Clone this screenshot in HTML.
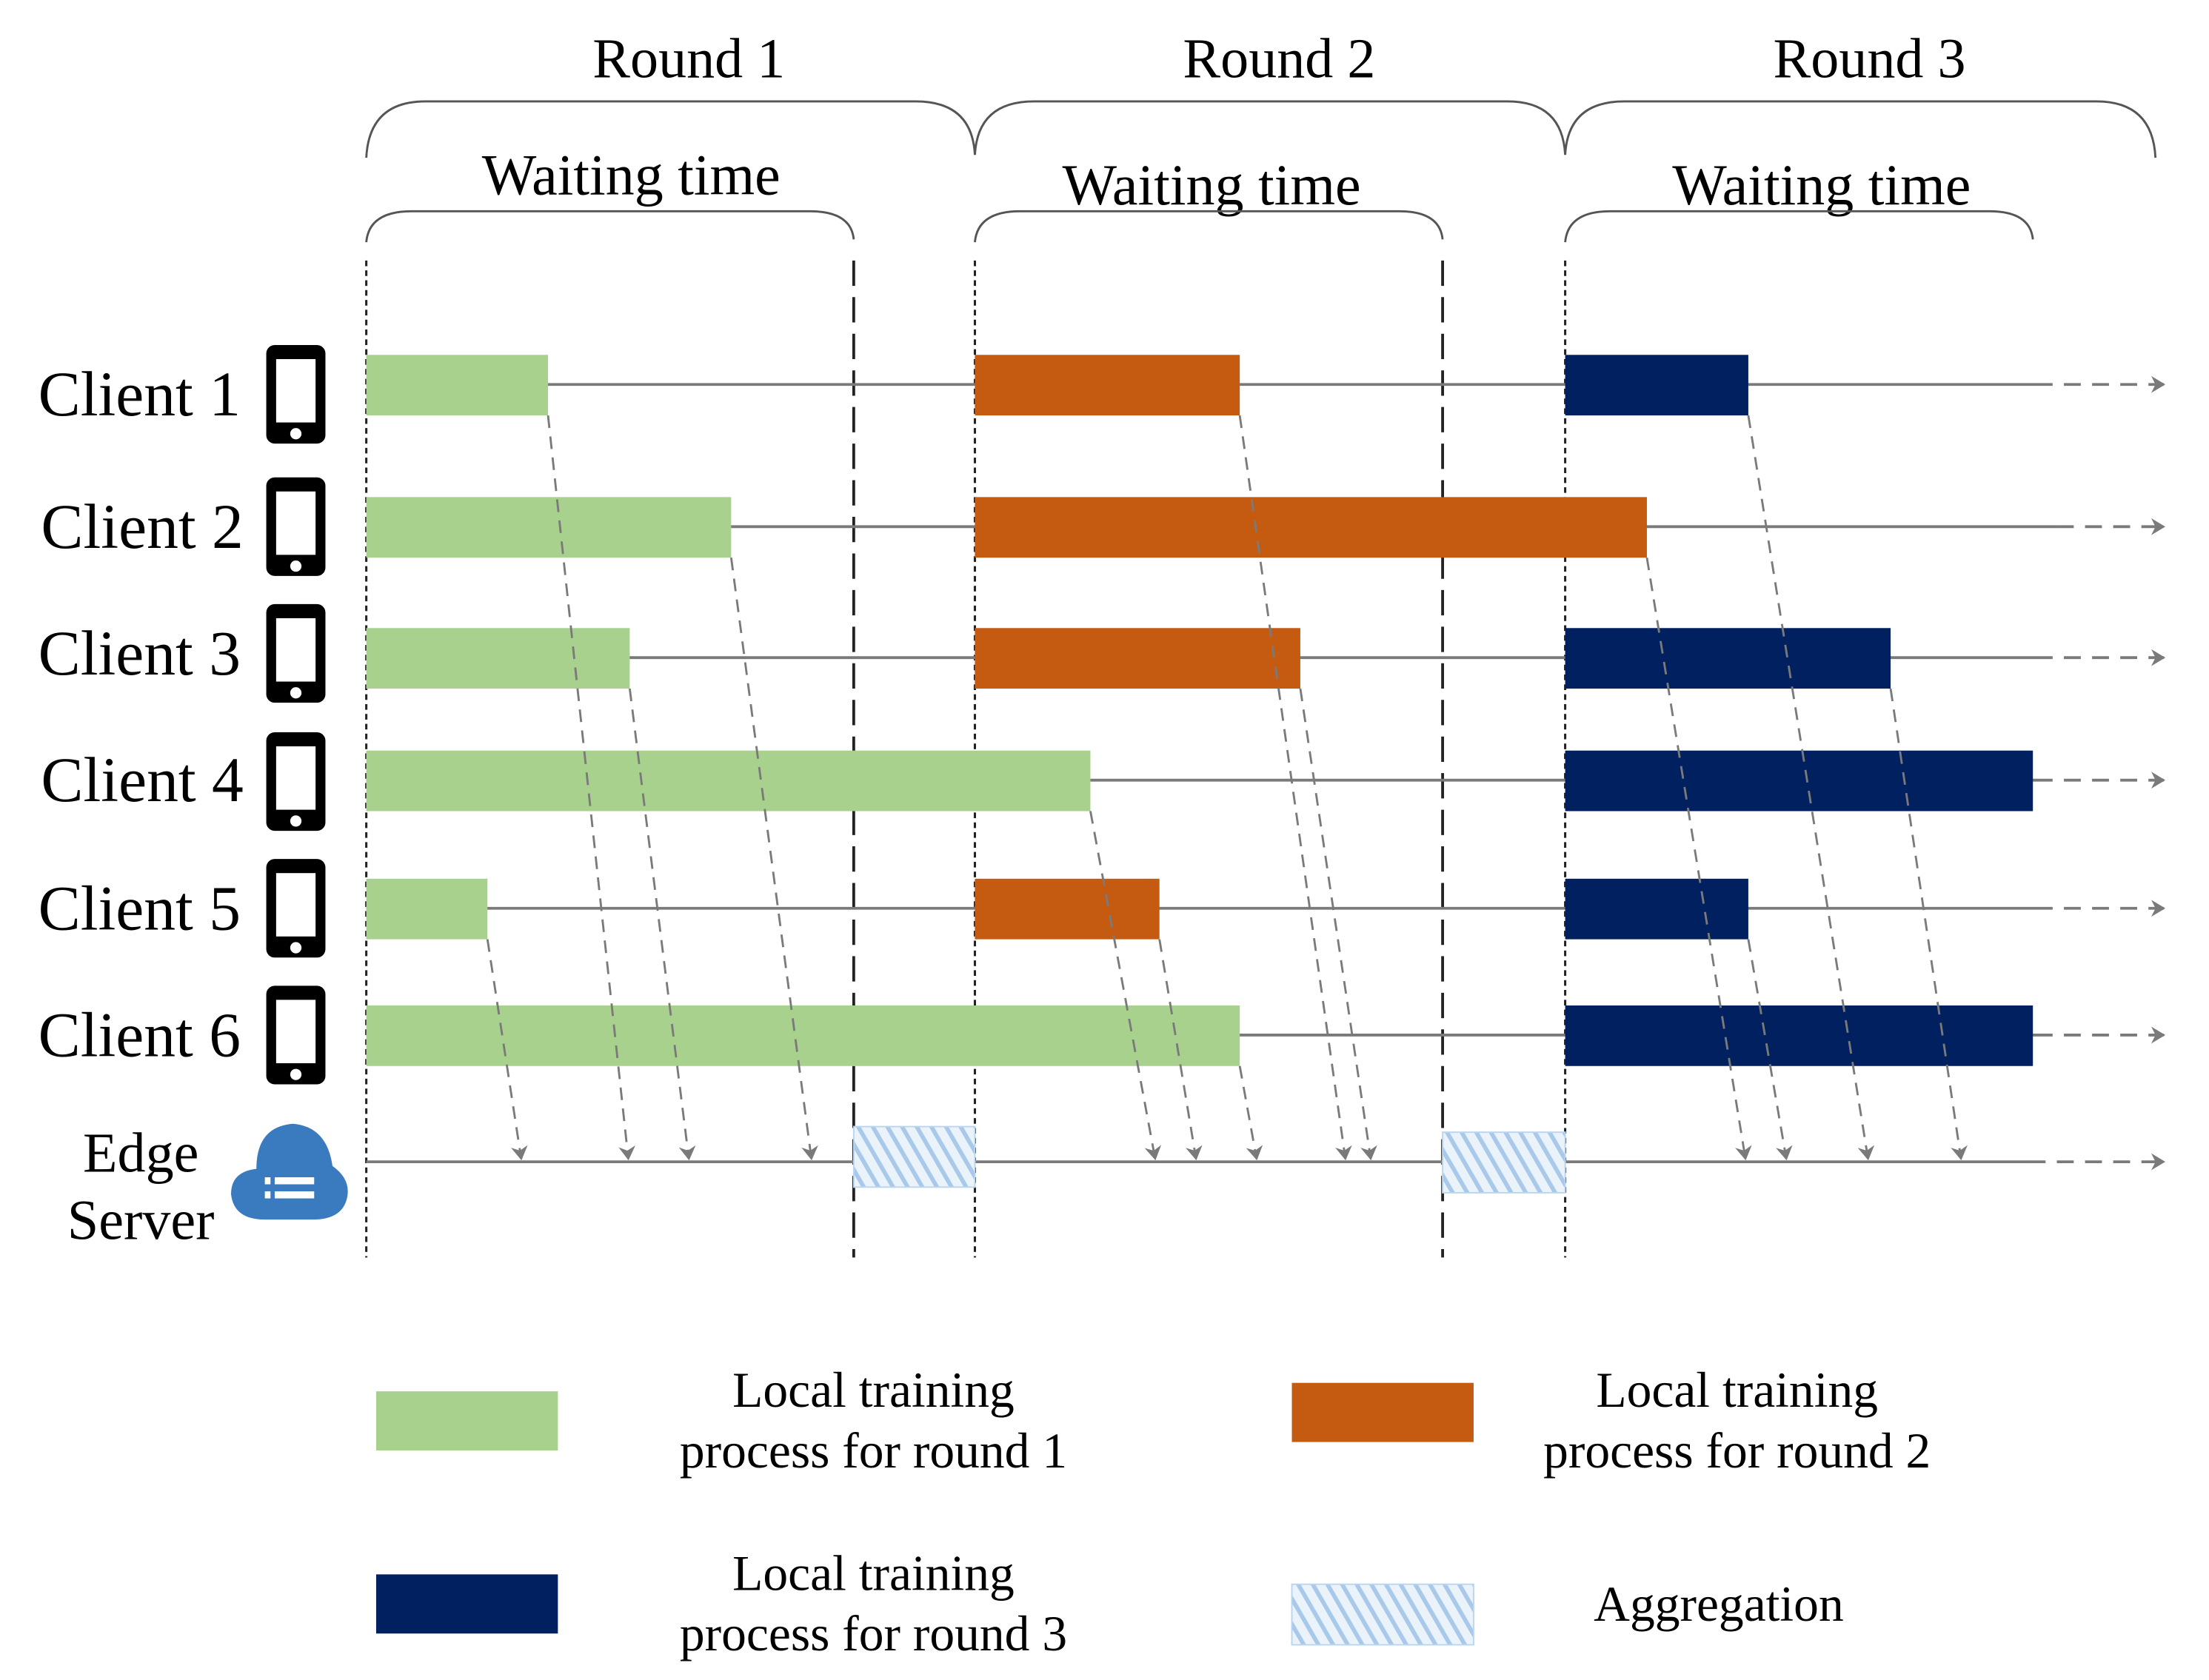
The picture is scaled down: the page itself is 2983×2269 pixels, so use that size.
<!DOCTYPE html>
<html><head><meta charset="utf-8"><style>html,body{margin:0;padding:0;background:#fff}svg{display:block}</style></head>
<body>
<svg width="2983" height="2269" viewBox="0 0 1568 1193" preserveAspectRatio="none" xmlns="http://www.w3.org/2000/svg" font-family="Liberation Serif, serif">
<defs>
<pattern id="h" width="9" height="9" patternUnits="userSpaceOnUse" patternTransform="rotate(-30)">
<rect width="9" height="9" fill="#eaf2fa"/><rect width="3" height="9" fill="#a9c9ea"/>
</pattern>
<marker id="a" markerWidth="10" markerHeight="12" refX="9" refY="6" orient="auto" markerUnits="userSpaceOnUse"><path d="M0,0 L10,6 L0,12 L3,6 Z" fill="#7a7a7a"/></marker>
<g id="ph"><rect x="-21" y="-35" width="42" height="70" rx="6" fill="#000"/><rect x="-14" y="-25" width="28" height="45" fill="#fff"/><circle cx="0" cy="28" r="4" fill="#fff"/></g>
</defs>
<g font-size="40" text-anchor="middle" fill="#000">
<text x="489" y="55">Round 1</text><text x="908" y="55">Round 2</text><text x="1327" y="55">Round 3</text>
</g>
<g font-size="41" text-anchor="middle" fill="#000">
<text x="448" y="138">Waiting time</text><text x="860" y="145">Waiting time</text><text x="1293" y="145">Waiting time</text>
</g>
<g fill="none" stroke="#555" stroke-width="1.5">
<path d="M260,112 Q262,72 302,72 L650,72 Q690,72 692,110 Q694,72 734,72 L1070,72 Q1109,72 1111,110 Q1113,72 1153,72 L1488,72 Q1528,72 1530,112"/>
<path d="M260,172 Q262,150 292,150 L575,150 Q604,150 606,170"/>
<path d="M692,172 Q694,150 724,150 L993,150 Q1022,150 1024,170"/>
<path d="M1111,172 Q1113,150 1143,150 L1412,150 Q1441,150 1443,170"/>
</g>
<g stroke="#222" stroke-width="1.6">
<line x1="260" y1="185" x2="260" y2="893" stroke-dasharray="4,3"/>
<line x1="692" y1="185" x2="692" y2="893" stroke-dasharray="4,3"/>
<line x1="1111" y1="185" x2="1111" y2="893" stroke-dasharray="4,3"/>
<line x1="606" y1="185" x2="606" y2="893" stroke-dasharray="18,8" stroke-width="2"/>
<line x1="1024" y1="185" x2="1024" y2="893" stroke-dasharray="18,8" stroke-width="2"/>
</g>
<g stroke="#7a7a7a" stroke-width="2" fill="none">
<line x1="260" y1="273" x2="1445" y2="273"/><line x1="1445" y1="273" x2="1536" y2="273" stroke-dasharray="12,8" marker-end="url(#a)"/>
<line x1="260" y1="374" x2="1460" y2="374"/><line x1="1460" y1="374" x2="1536" y2="374" stroke-dasharray="12,8" marker-end="url(#a)"/>
<line x1="260" y1="467" x2="1445" y2="467"/><line x1="1445" y1="467" x2="1536" y2="467" stroke-dasharray="12,8" marker-end="url(#a)"/>
<line x1="260" y1="554" x2="1445" y2="554"/><line x1="1445" y1="554" x2="1536" y2="554" stroke-dasharray="12,8" marker-end="url(#a)"/>
<line x1="260" y1="645" x2="1445" y2="645"/><line x1="1445" y1="645" x2="1536" y2="645" stroke-dasharray="12,8" marker-end="url(#a)"/>
<line x1="260" y1="735" x2="1445" y2="735"/><line x1="1445" y1="735" x2="1536" y2="735" stroke-dasharray="12,8" marker-end="url(#a)"/>
<line x1="260" y1="825" x2="1440" y2="825"/><line x1="1440" y1="825" x2="1536" y2="825" stroke-dasharray="12,8" marker-end="url(#a)"/>
</g>
<g fill="#a9d18e">
<rect x="260" y="252" width="129" height="43"/><rect x="260" y="353" width="259" height="43"/><rect x="260" y="446" width="187" height="43"/>
<rect x="260" y="533" width="514" height="43"/><rect x="260" y="624" width="86" height="43"/><rect x="260" y="714" width="620" height="43"/>
</g>
<g fill="#c55a11">
<rect x="692" y="252" width="188" height="43"/><rect x="692" y="353" width="477" height="43"/><rect x="692" y="446" width="231" height="43"/><rect x="692" y="624" width="131" height="43"/>
</g>
<g fill="#002060">
<rect x="1111" y="252" width="130" height="43"/><rect x="1111" y="446" width="231" height="43"/><rect x="1111" y="533" width="332" height="43"/>
<rect x="1111" y="624" width="130" height="43"/><rect x="1111" y="714" width="332" height="43"/>
</g>
<rect x="606" y="800" width="86" height="43" fill="url(#h)" stroke="#bcd5ee"/>
<rect x="1024" y="804" width="87" height="43" fill="url(#h)" stroke="#bcd5ee"/>
<g stroke="#7a7a7a" stroke-width="1.5" stroke-dasharray="9,6" fill="none" marker-end="url(#a)">
<line x1="346" y1="667" x2="370" y2="823"/><line x1="389" y1="295" x2="446" y2="823"/><line x1="447" y1="489" x2="489" y2="823"/><line x1="519" y1="396" x2="576" y2="823"/>
<line x1="774" y1="576" x2="820" y2="823"/><line x1="823" y1="667" x2="849" y2="823"/><line x1="880" y1="757" x2="892" y2="823"/><line x1="880" y1="295" x2="955" y2="823"/><line x1="923" y1="489" x2="973" y2="823"/>
<line x1="1169" y1="396" x2="1239" y2="823"/><line x1="1241" y1="667" x2="1268" y2="823"/><line x1="1241" y1="295" x2="1326" y2="823"/><line x1="1342" y1="489" x2="1392" y2="823"/>
</g>
<g font-size="45" text-anchor="middle">
<text x="99" y="295">Client 1</text><text x="101" y="389">Client 2</text><text x="99" y="479">Client 3</text>
<text x="101" y="569">Client 4</text><text x="99" y="660">Client 5</text><text x="99" y="750">Client 6</text>
</g>
<use href="#ph" x="210" y="280"/><use href="#ph" x="210" y="374"/><use href="#ph" x="210" y="464"/>
<use href="#ph" x="210" y="555"/><use href="#ph" x="210" y="645"/><use href="#ph" x="210" y="735"/>
<g font-size="40" text-anchor="middle"><text x="100" y="832">Edge</text><text x="100" y="880">Server</text></g>
<path d="M182,830 Q182,800 208,798 Q232,800 236,828 Q250,838 246,852 Q242,866 222,866 L188,866 Q166,866 164,848 Q164,832 182,830 Z" fill="#3a7abf"/>
<g fill="#fff"><rect x="188" y="836" width="4" height="5"/><rect x="195" y="836" width="28" height="5"/><rect x="188" y="846" width="4" height="5"/><rect x="195" y="846" width="28" height="5"/></g>
<rect x="267" y="988" width="129" height="42" fill="#a9d18e"/>
<rect x="917" y="982" width="129" height="42" fill="#c55a11"/>
<rect x="267" y="1118" width="129" height="42" fill="#002060"/>
<rect x="917" y="1125" width="129" height="43" fill="url(#h)" stroke="#bcd5ee"/>
<g font-size="35.5" text-anchor="middle">
<text x="620" y="999">Local training</text><text x="620" y="1042">process for round 1</text>
<text x="1233" y="999">Local training</text><text x="1233" y="1042">process for round 2</text>
<text x="620" y="1129">Local training</text><text x="620" y="1172">process for round 3</text>
<text x="1220" y="1151">Aggregation</text>
</g>
</svg>
</body></html>
